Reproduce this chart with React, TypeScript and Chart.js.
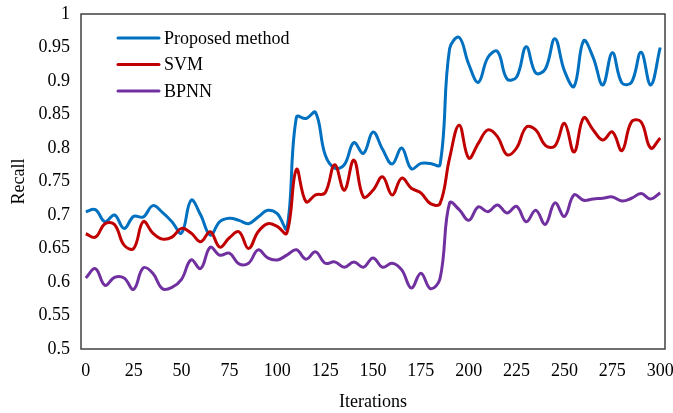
import React, { useEffect, useRef } from 'react';
import { Chart, registerables } from 'chart.js';

Chart.register(...registerables);

const iterations = [
  0, 5, 10, 15, 20, 25, 30, 35, 40, 45, 50, 55, 60, 65, 70, 75, 80, 85, 90, 95,
  100, 105, 110, 115, 120, 125, 130, 135, 140, 145, 150, 155, 160, 165, 170, 175, 180, 185, 190, 195,
  200, 205, 210, 215, 220, 225, 230, 235, 240, 245, 250, 255, 260, 265, 270, 275, 280, 285, 290, 295, 300,
];

const proposed = [
  0.705, 0.708, 0.690, 0.700, 0.680, 0.698, 0.697, 0.714, 0.704, 0.690,
  0.673, 0.722, 0.700, 0.670, 0.690, 0.695, 0.692, 0.687, 0.697, 0.707,
  0.702, 0.680, 0.846, 0.844, 0.853, 0.790, 0.770, 0.775, 0.808, 0.792,
  0.824, 0.798, 0.776, 0.800, 0.769, 0.777, 0.777, 0.775, 0.948, 0.965,
  0.925, 0.898, 0.935, 0.944, 0.903, 0.906, 0.951, 0.912, 0.918, 0.963,
  0.915, 0.892, 0.960, 0.935, 0.894, 0.942, 0.897, 0.898, 0.943, 0.894, 0.950,
];

const svm = [
  0.672, 0.667, 0.687, 0.686, 0.655, 0.650, 0.690, 0.673, 0.664, 0.667,
  0.680, 0.673, 0.660, 0.675, 0.652, 0.666, 0.675, 0.650, 0.675, 0.687,
  0.683, 0.673, 0.768, 0.720, 0.730, 0.733, 0.775, 0.737, 0.782, 0.727,
  0.737, 0.757, 0.730, 0.755, 0.740, 0.733, 0.717, 0.717, 0.785, 0.834,
  0.785, 0.807, 0.827, 0.817, 0.790, 0.800, 0.831, 0.827, 0.804, 0.803,
  0.837, 0.794, 0.845, 0.827, 0.812, 0.824, 0.796, 0.839, 0.839, 0.800, 0.815,
];

const bpnn = [
  0.606, 0.620, 0.595, 0.607, 0.606, 0.589, 0.621, 0.613, 0.590, 0.592,
  0.604, 0.633, 0.620, 0.652, 0.640, 0.643, 0.627, 0.628, 0.648, 0.636,
  0.633, 0.640, 0.648, 0.634, 0.645, 0.628, 0.630, 0.622, 0.630, 0.622,
  0.636, 0.622, 0.628, 0.618, 0.591, 0.613, 0.590, 0.605, 0.718, 0.708,
  0.692, 0.712, 0.705, 0.715, 0.703, 0.713, 0.690, 0.707, 0.686, 0.718,
  0.698, 0.730, 0.722, 0.724, 0.725, 0.727, 0.721, 0.725, 0.732, 0.724, 0.733,
];

const seriesNames = ['Proposed method', 'SVM', 'BPNN'];
const seriesColors = ['#0070C0', '#C00000', '#7030A0'];

const FONT = "'Liberation Serif', 'Times New Roman', serif";

const frameAndLegend = {
  id: 'frameAndLegend',
  afterDatasetsDraw(chart: any) {
    const { ctx, chartArea: a } = chart;
    ctx.save();
    ctx.strokeStyle = '#404040';
    ctx.lineWidth = 1.5;
    ctx.strokeRect(a.left, a.top, a.right - a.left, a.bottom - a.top);
    ctx.font = `18px ${FONT}`;
    ctx.textBaseline = 'middle';
    ctx.textAlign = 'left';
    chart.data.datasets.forEach((ds: any, i: number) => {
      const y = a.top + 24 + i * 26.5;
      const x0 = a.left + 37;
      ctx.strokeStyle = ds.borderColor;
      ctx.lineWidth = 3;
      ctx.lineCap = 'round';
      ctx.beginPath();
      ctx.moveTo(x0, y);
      ctx.lineTo(x0 + 41, y);
      ctx.stroke();
      ctx.fillStyle = '#000';
      ctx.fillText(ds.label, x0 + 46, y + 1);
    });
    ctx.restore();
  },
};

export default function App() {
  const ref = useRef<HTMLCanvasElement>(null);

  useEffect(() => {
    document.body.style.margin = '0';
    const values = [proposed, svm, bpnn];
    const chart = new Chart(ref.current as HTMLCanvasElement, {
      type: 'line',
      data: {
        labels: iterations.map(String),
        datasets: values.map((v, i) => ({
          label: seriesNames[i],
          data: v,
          borderColor: seriesColors[i],
          backgroundColor: seriesColors[i],
          borderWidth: 3,
          pointRadius: 0,
          tension: 0.4,
          fill: false,
          order: 3 - i,
        })),
      },
      options: {
        responsive: false,
        animation: false,
        devicePixelRatio: 1,
        layout: { padding: { top: 14, right: 8, left: 0, bottom: 0 } },
        plugins: { legend: { display: false }, tooltip: { enabled: false } },
        scales: {
          x: {
            type: 'category',
            offset: true,
            grid: { display: false, drawTicks: false },
            border: { display: false },
            ticks: {
              autoSkip: false,
              maxRotation: 0,
              padding: 11,
              color: '#000',
              font: { family: FONT, size: 18 },
              callback: (_v: any, idx: number) => (idx % 5 === 0 ? String(iterations[idx]) : ''),
            },
            title: {
              display: true,
              text: 'Iterations',
              color: '#000',
              font: { family: FONT, size: 18 },
              padding: { top: 0, bottom: 0 },
            },
            afterFit: (s: any) => { s.height = 64; s.paddingLeft = 0; s.paddingRight = 0; },
          },
          y: {
            min: 0.5,
            max: 1,
            grid: { display: false, drawTicks: false },
            border: { display: false },
            ticks: {
              stepSize: 0.05,
              padding: 11,
              color: '#000',
              font: { family: FONT, size: 18 },
              callback: (v: any) => String(Math.round(Number(v) * 100) / 100),
            },
            title: {
              display: true,
              text: 'Recall',
              color: '#000',
              font: { family: FONT, size: 18 },
              padding: { top: 8, bottom: 0 },
            },
            afterFit: (s: any) => { s.width = 81; s.paddingTop = 0; s.paddingBottom = 0; },
          },
        },
      },
      plugins: [frameAndLegend],
    } as any);
    return () => chart.destroy();
  }, []);

  return (
    <div style={{ position: 'absolute', left: 0, top: 0, width: 673, height: 413 }}>
      <canvas ref={ref} width={673} height={413} />
    </div>
  );
}
